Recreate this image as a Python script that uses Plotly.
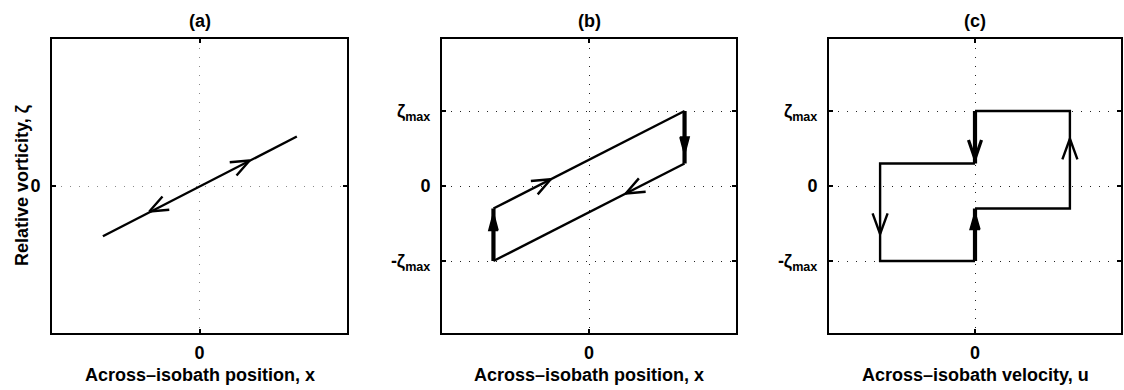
import math
import plotly.graph_objects as go

# ---------------------------------------------------------------- data
ZMAX = 1.0                      # vorticity scale, zeta_max

# (a) reversible response: vorticity follows position along one line
xa_line = [-1.31, 1.32]
za_line = [-0.67, 0.66]
a_tail_x = [0.30, -0.30]
a_tail_z = [0.15, -0.15]
a_head_x = [0.68, -0.68]
a_head_z = [0.34, -0.34]

# (b) hysteresis loop in position
xb_thin = [-1.30, 1.30, None, 1.30, -1.30]
zb_thin = [-0.30, 1.00, None, 0.30, -1.00]
xb_thick = [1.30, 1.30, None, -1.30, -1.30]
zb_thick = [1.00, 0.30, None, -1.00, -0.30]
b_open_tail_x = [-0.90, 0.90]
b_open_tail_z = [-0.10, 0.10]
b_open_head_x = [-0.52, 0.50]
b_open_head_z = [0.09, -0.10]
b_solid_tail_x = [1.30, -1.30]
b_solid_tail_z = [1.00, -1.00]
b_solid_head_x = [1.30, -1.30]
b_solid_head_z = [0.42, -0.36]

# (c) loop in velocity
uc_thin = [0.00, 1.30, 1.30, 0.00, None, 0.00, -1.30, -1.30, 0.00]
zc_thin = [1.00, 1.00, -0.30, -0.30, None, -1.00, -1.00, 0.30, 0.30]
uc_thick = [0.00, 0.00, None, 0.00, 0.00]
zc_thick = [1.00, 0.30, None, -0.30, -1.00]
c_open_tail_x = [1.30, -1.30]
c_open_tail_z = [0.20, -0.20]
c_open_head_x = [1.30, -1.30]
c_open_head_z = [0.63, -0.64]
c_bold_tail_x = [0.00]
c_bold_tail_z = [0.75]
c_bold_head_x = [0.00]
c_bold_head_z = [0.36]
c_solid_tail_x = [0.00]
c_solid_tail_z = [-0.80]
c_solid_head_x = [0.00]
c_solid_head_z = [-0.35]

titles = ["(a)", "(b)", "(c)"]
xlabels = ["Across–isobath position, x",
           "Across–isobath position, x",
           "Across–isobath velocity, u"]
ylabel = "Relative vorticity, ζ"
ytick_vals = [-ZMAX, 0, ZMAX]
ytick_text = ["-ζ<sub>max</sub>", "0", "ζ<sub>max</sub>"]

# ---------------------------------------------------------------- layout
W, H = 1124, 390
FONT = "Liberation Sans, Arial, Helvetica, sans-serif"
FS = 18
X_RANGE = [-2.0, 2.0]
Z_RANGE = [-1.96, 1.96]

px_left = [52, 442, 829]
px_right = [347, 736, 1121]
px_top, px_bottom = 39, 333
ydom = [1 - px_bottom / H, 1 - px_top / H]

THIN_W = 2.4
THICK_W = 4.2

fig = go.Figure()


def axis_ids(i):
    sx = "" if i == 0 else str(i + 1)
    return "x" + sx, "y" + sx


def add_path(i, xs, zs, width):
    xr, yr = axis_ids(i)
    fig.add_trace(go.Scatter(x=xs, y=zs, mode="lines",
                             line=dict(color="black", width=width),
                             xaxis=xr, yaxis=yr, hoverinfo="skip"))


def add_heads(i, tx, tz, hx, hz, length, half_deg, width, filled):
    """Arrowheads at (hx, hz), pointing away from (tx, tz); sized in px."""
    sx = (px_right[i] - px_left[i]) / (X_RANGE[1] - X_RANGE[0])
    sz = (px_bottom - px_top) / (Z_RANGE[1] - Z_RANGE[0])
    a = math.radians(half_deg)
    xs, zs = [], []
    for x0, z0, x1, z1 in zip(tx, tz, hx, hz):
        dx, dz = (x0 - x1) * sx, (z0 - z1) * sz
        n = math.hypot(dx, dz)
        ux, uz = dx / n, dz / n
        arms = []
        for s in (1, -1):
            bx = ux * math.cos(s * a) - uz * math.sin(s * a)
            bz = ux * math.sin(s * a) + uz * math.cos(s * a)
            arms.append((x1 + bx * length / sx, z1 + bz * length / sz))
        pts = [arms[0], (x1, z1), arms[1]]
        if filled:
            pts.append(arms[0])
        xs += [p[0] for p in pts] + [None]
        zs += [p[1] for p in pts] + [None]
    xr, yr = axis_ids(i)
    kw = dict(fill="toself", fillcolor="black") if filled else {}
    fig.add_trace(go.Scatter(x=xs, y=zs, mode="lines",
                             line=dict(color="black", width=width),
                             xaxis=xr, yaxis=yr, hoverinfo="skip", **kw))


# panel (a)
add_path(0, xa_line, za_line, THIN_W)
add_heads(0, a_tail_x, a_tail_z, a_head_x, a_head_z, 20, 22, 2.4, False)

# panel (b)
add_path(1, xb_thin, zb_thin, THIN_W)
add_path(1, xb_thick, zb_thick, THICK_W)
add_heads(1, b_open_tail_x, b_open_tail_z, b_open_head_x, b_open_head_z,
          20, 22, 2.4, False)
add_heads(1, b_solid_tail_x, b_solid_tail_z, b_solid_head_x, b_solid_head_z,
          18, 15, 1.5, True)

# panel (c)
add_path(2, uc_thin, zc_thin, THIN_W)
add_path(2, uc_thick, zc_thick, THICK_W)
add_heads(2, c_open_tail_x, c_open_tail_z, c_open_head_x, c_open_head_z,
          22, 20, 2.4, False)
add_heads(2, c_bold_tail_x, c_bold_tail_z, c_bold_head_x, c_bold_head_z,
          20, 19, 3.2, False)
add_heads(2, c_solid_tail_x, c_solid_tail_z, c_solid_head_x, c_solid_head_z,
          18, 16, 1.5, True)

font = dict(family=FONT, size=FS, color="black", weight="bold")

annotations = []
for i in range(3):
    cx = (px_left[i] + px_right[i]) / 2 / W
    annotations.append(dict(text=titles[i], x=cx, y=1 - 21 / H,
                            xref="paper", yref="paper", showarrow=False,
                            xanchor="center", yanchor="middle", font=font))
    annotations.append(dict(text=xlabels[i], x=cx, y=1 - 375 / H,
                            xref="paper", yref="paper", showarrow=False,
                            xanchor="center", yanchor="middle", font=font))

annotations.append(dict(text=ylabel, x=22 / W, y=1 - 186 / H,
                        xref="paper", yref="paper", showarrow=False,
                        textangle=-90, xanchor="center", yanchor="middle",
                        font=font))

layout = dict(
    width=W, height=H,
    margin=dict(l=0, r=0, t=0, b=0),
    paper_bgcolor="white", plot_bgcolor="white",
    showlegend=False,
    font=font,
    annotations=annotations,
)

for i in range(3):
    xr, yr = axis_ids(i)
    grid_col = "#8a8a8a" if i == 0 else "#222222"
    layout["xaxis" + xr[1:]] = dict(
        domain=[px_left[i] / W, px_right[i] / W],
        range=X_RANGE, anchor=yr,
        tickvals=[0], ticktext=["0"],
        ticks="inside", ticklen=4, tickwidth=1.5, tickcolor="black",
        showline=True, linecolor="black", linewidth=2, mirror="ticks",
        showgrid=True, gridcolor=grid_col, gridwidth=1.3,
        griddash="1.3px,7.7px",
        zeroline=False, fixedrange=True,
        tickfont=font, ticklabelstandoff=2,
    )
    yv = [0] if i == 0 else ytick_vals
    yt = ["0"] if i == 0 else ytick_text
    layout["yaxis" + yr[1:]] = dict(
        domain=ydom, range=Z_RANGE, anchor=xr,
        tickvals=yv, ticktext=yt,
        ticks="inside", ticklen=4, tickwidth=1.5, tickcolor="black",
        showline=True, linecolor="black", linewidth=2, mirror="ticks",
        showgrid=True, gridcolor=grid_col, gridwidth=1.3,
        griddash="1.3px,7.7px",
        zeroline=False, fixedrange=True,
        tickfont=font, ticklabelstandoff=6,
    )

fig.update_layout(**layout)
fig.write_html("out.html")
